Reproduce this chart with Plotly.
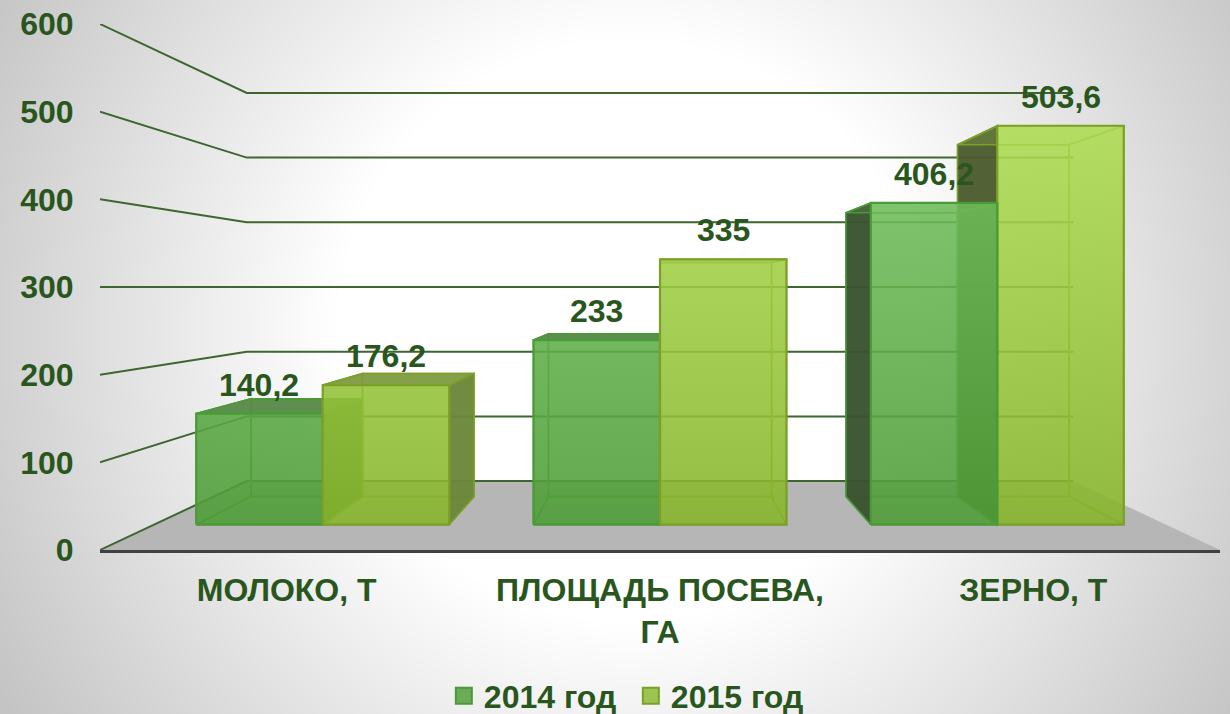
import base64, struct, zlib
import numpy as np
import plotly.graph_objects as go

categories = ["МОЛОКО, Т", "ПЛОЩАДЬ ПОСЕВА,<br>ГА", "ЗЕРНО, Т"]
series_names = ["2014 год", "2015 год"]
values_2014 = [140.2, 233, 406.2]
values_2015 = [176.2, 335, 503.6]
y_ticks = [0, 100, 200, 300, 400, 500, 600]

TEXT = "#28561c"
FONT = "Liberation Sans, Arial, sans-serif"
# Perspective of the 3D chart: depth factors towards a vanishing point
VX, VY = 1.5, 300.0
S_AXIS, S_FRONT, S_BACK, S_WALL = 1.0, 0.9034, 0.797, 0.738
BAR_W = 0.375


def proj(x, v, s):
    return VX + (x - VX) * s, VY + (v - VY) * s


STYLE = {
    0: dict(edge="#4a9a38", ext_left="rgba(56,82,46,0.95)", ext_right="rgba(70,110,55,0.95)",
            ext_top="rgba(88,138,72,0.95)",
            inner="rgba(90,165,70,0.22)",
            scale=[[0, "rgba(74,153,50,0.85)"], [1, "rgba(130,208,110,0.85)"]]),
    1: dict(edge="#7ba028", ext_left="rgba(75,90,45,0.95)", ext_right="rgba(106,134,56,0.95)",
            ext_top="rgba(128,155,65,0.95)",
            inner="rgba(150,200,70,0.22)",
            scale=[[0, "rgba(130,177,39,0.85)"], [1, "rgba(185,231,94,0.85)"]]),
}


def poly(pts, **kw):
    xs = [p[0] for p in pts] + [pts[0][0]]
    ys = [p[1] for p in pts] + [pts[0][1]]
    return go.Scatter(x=xs, y=ys, mode="lines", showlegend=False, hoverinfo="skip",
                      cliponaxis=False, **kw)


def bar_traces(x0, x1, v, st):
    def P(x, val, s):
        return proj(x, val, s)
    faces = {
        "back": [P(x0, 0, S_BACK), P(x1, 0, S_BACK), P(x1, v, S_BACK), P(x0, v, S_BACK)],
        "bottom": [P(x0, 0, S_FRONT), P(x1, 0, S_FRONT), P(x1, 0, S_BACK), P(x0, 0, S_BACK)],
        "left": [P(x0, 0, S_FRONT), P(x0, v, S_FRONT), P(x0, v, S_BACK), P(x0, 0, S_BACK)],
        "right": [P(x1, 0, S_FRONT), P(x1, v, S_FRONT), P(x1, v, S_BACK), P(x1, 0, S_BACK)],
        "top": [P(x0, v, S_FRONT), P(x1, v, S_FRONT), P(x1, v, S_BACK), P(x0, v, S_BACK)],
    }
    out = []
    def inner(name):
        return poly(faces[name], fill="toself", fillcolor=st["inner"],
                    line=dict(color=st["edge"], width=1.5))
    def outer(name, color):
        return poly(faces[name], fill="toself", fillcolor=color,
                    line=dict(color=st["edge"], width=1.5))
    out += [inner("back"), inner("bottom")]
    out.append(outer("left", st["ext_left"]) if x0 > VX else inner("left"))
    out.append(outer("right", st["ext_right"]) if x1 < VX else inner("right"))
    out.append(outer("top", st["ext_top"]) if v < VY else inner("top"))
    front = [P(x0, 0, S_FRONT), P(x1, 0, S_FRONT), P(x1, v, S_FRONT), P(x0, v, S_FRONT)]
    out.append(poly(front, fill="toself",
                    fillgradient=dict(type="vertical", colorscale=st["scale"], start=0, stop=600),
                    line=dict(color=st["edge"], width=2.2)))
    return out


fig = go.Figure()

# Floor
floor = [proj(0, 0, S_AXIS), proj(3, 0, S_AXIS), proj(3, 0, S_WALL), proj(0, 0, S_WALL)]
fig.add_trace(poly(floor, fill="toself", fillcolor="#b6b6b6", line=dict(width=0)))

# Gridlines bending from the left wall onto the back wall
for v in y_ticks:
    pts = [proj(0, v, S_AXIS), proj(0, v, S_WALL), proj(3, v, S_WALL)]
    fig.add_trace(go.Scatter(x=[p[0] for p in pts], y=[p[1] for p in pts], mode="lines",
                             line=dict(color="#3d6630", width=2), showlegend=False,
                             hoverinfo="skip", cliponaxis=False))

# Bars: outermost from the vanishing point first
bars = []
for i in range(len(categories)):
    bars.append((i + 0.5 - BAR_W, i + 0.5, values_2014[i], 0))
    bars.append((i + 0.5, i + 0.5 + BAR_W, values_2015[i], 1))
bars.sort(key=lambda b: -abs((b[0] + b[1]) / 2 - VX))
for x0, x1, v, k in bars:
    for tr in bar_traces(x0, x1, v, STYLE[k]):
        fig.add_trace(tr)

# Legend entries
for k, name in enumerate(series_names):
    fig.add_trace(go.Scatter(x=[None], y=[None], mode="markers", name=name,
                             marker=dict(symbol="square", size=16,
                                         color=["#6aac58", "#9cc44f"][k],
                                         line=dict(color=STYLE[k]["edge"], width=2))))

bold = dict(family=FONT, size=32, color=TEXT, weight="bold")

# Data labels
annotations = []
for k, vals in enumerate((values_2014, values_2015)):
    for i, v in enumerate(vals):
        cx = i + 0.5 + (k - 0.5) * BAR_W
        x, y = proj(cx, v, S_FRONT)
        annotations.append(dict(x=x, y=y, text=f"{v:g}".replace(".", ","), showarrow=False,
                                xanchor="center", yanchor="middle", yshift=29, font=bold))


# Radial grey page background
def background_png(w=1230, h=714):
    yy, xx = np.mgrid[0:h, 0:w]
    r = np.hypot(xx - 628, yy - 330)
    t = np.clip((r - 293) / 437, 0, 1)
    g = (255 - 59 * t).astype(np.uint8)
    raw = b"".join(b"\x00" + g[row].tobytes() for row in range(h))
    def chunk(tag, data):
        c = struct.pack(">I", len(data)) + tag + data
        return c + struct.pack(">I", zlib.crc32(tag + data) & 0xffffffff)
    png = b"\x89PNG\r\n\x1a\n" + chunk(b"IHDR", struct.pack(">IIBBBBB", w, h, 8, 0, 0, 0, 0)) \
        + chunk(b"IDAT", zlib.compress(raw)) + chunk(b"IEND", b"")
    return "data:image/png;base64," + base64.b64encode(png).decode()


fig.update_layout(
    width=1230, height=714,
    margin=dict(l=100, r=10, t=24, b=164, autoexpand=False),
    paper_bgcolor="#ffffff", plot_bgcolor="rgba(0,0,0,0)",
    font=bold,
    showlegend=True,
    legend=dict(orientation="h", x=0.307, xref="paper", xanchor="left",
                y=-0.225, yref="paper", yanchor="top", font=bold,
                bgcolor="rgba(0,0,0,0)", entrywidth=142, entrywidthmode="pixels",
                itemclick=False, itemdoubleclick=False),
    images=[dict(source=background_png(), xref="paper", yref="paper", x=-100 / 1120, y=1 + 24 / 526,
                 sizex=1230 / 1120, sizey=714 / 526, xanchor="left", yanchor="top",
                 sizing="stretch", layer="below")],
    annotations=annotations,
    xaxis=dict(range=[0, 3], tickmode="array", tickvals=[0.5, 1.5, 2.5], ticktext=categories,
               showgrid=False, zeroline=False, showline=True, linecolor="#404040", linewidth=3,
               ticks="outside", ticklen=10, tickcolor="rgba(0,0,0,0)", tickfont=bold),
    yaxis=dict(range=[0, 600], tickmode="array", tickvals=y_ticks, ticktext=[str(t) for t in y_ticks],
               showgrid=False, zeroline=False, showline=False,
               ticks="outside", ticklen=19, tickcolor="rgba(0,0,0,0)", tickfont=bold),
)
fig.write_html("out.html", config={"displayModeBar": False},
               post_script="document.body.style.margin='0';")
